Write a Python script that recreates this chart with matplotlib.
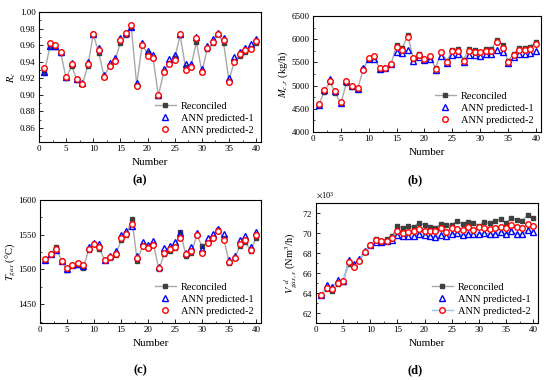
import matplotlib
matplotlib.use("Agg")
import matplotlib.pyplot as plt
import numpy as np
from matplotlib.ticker import ScalarFormatter, AutoMinorLocator

plt.rcParams['font.family'] = ['Liberation Serif', 'DejaVu Serif']
plt.rcParams['mathtext.fontset'] = 'stix'

number = list(range(1, 41))

# (a) R_c
a_rec = [0.927,0.958,0.958,0.951,0.920,0.935,0.918,0.913,0.935,0.973,
         0.951,0.922,0.935,0.941,0.963,0.972,0.982,0.912,0.960,0.950,
         0.945,0.899,0.928,0.938,0.944,0.972,0.933,0.934,0.964,0.928,
         0.955,0.962,0.973,0.963,0.917,0.941,0.947,0.952,0.956,0.962]
a_ann1 = [0.927,0.959,0.959,0.952,0.922,0.938,0.919,0.914,0.940,0.974,
          0.956,0.924,0.938,0.944,0.968,0.975,0.982,0.914,0.963,0.953,
          0.948,0.900,0.931,0.943,0.948,0.974,0.937,0.937,0.970,0.931,
          0.959,0.967,0.975,0.968,0.920,0.946,0.952,0.957,0.961,0.967]
a_ann2 = [0.932,0.962,0.960,0.952,0.921,0.937,0.919,0.913,0.937,0.974,
          0.954,0.922,0.935,0.941,0.966,0.975,0.984,0.911,0.960,0.947,
          0.944,0.900,0.927,0.937,0.942,0.974,0.930,0.933,0.968,0.927,
          0.957,0.964,0.974,0.966,0.916,0.940,0.949,0.954,0.955,0.965]

# (b) M_c,r (kg/h)
b_rec = [4580,4860,5080,4850,4620,5060,4980,4920,5350,5580,
         5610,5360,5380,5460,5870,5810,6080,5580,5680,5570,
         5610,5380,5730,5530,5760,5790,5560,5780,5770,5730,
         5780,5780,5980,5880,5530,5690,5810,5810,5840,5950]
b_ann1 = [4580,4900,5140,4880,4620,5090,4990,4920,5370,5580,
          5580,5360,5380,5470,5720,5700,5760,5530,5610,5560,
          5570,5330,5640,5490,5660,5690,5500,5660,5670,5630,
          5680,5680,5760,5720,5480,5610,5680,5690,5700,5740]
b_ann2 = [4610,4910,5100,4890,4650,5100,5000,4950,5340,5590,
          5630,5370,5390,5460,5830,5770,6040,5590,5650,5570,
          5630,5360,5720,5500,5740,5740,5530,5740,5730,5720,
          5740,5740,5930,5810,5510,5660,5770,5770,5790,5890]

# (c) T_gas (°C)
c_rec = [1513,1523,1532,1512,1499,1506,1507,1502,1528,1536,
         1530,1513,1517,1521,1542,1550,1573,1512,1535,1531,
         1537,1500,1522,1526,1531,1554,1520,1524,1549,1534,
         1538,1545,1557,1545,1510,1516,1534,1540,1527,1546]
c_ann1 = [1513,1523,1528,1512,1501,1507,1508,1505,1532,1538,
          1537,1514,1520,1526,1549,1555,1563,1520,1540,1535,
          1541,1503,1531,1534,1539,1552,1524,1532,1553,1530,
          1545,1551,1558,1551,1514,1519,1543,1548,1533,1554]
c_ann2 = [1515,1523,1530,1512,1502,1507,1510,1506,1530,1536,
          1533,1514,1518,1523,1545,1551,1566,1516,1534,1531,
          1535,1502,1524,1529,1532,1545,1522,1526,1549,1524,
          1538,1545,1556,1543,1511,1517,1536,1542,1528,1550]

# (d) V_gas,s^d (Nm3/h)
d_rec = [63800,64400,64200,64900,65100,66900,66700,67200,68100,68800,
         69400,69200,69400,69700,70700,70500,70700,70600,71000,70800,
         70600,70500,70900,70800,70800,71200,70900,71100,71000,70700,
         71100,71000,71200,71400,71000,71500,71300,71200,71800,71500]
d_ann1 = [63800,64800,64600,65300,65200,67300,66900,67400,68200,68800,
          69100,69100,69200,69300,69800,69700,69700,69700,69900,69800,
          69700,69600,69800,69700,69900,70000,69800,69900,69900,69900,
          70000,69900,69900,70100,69900,70200,69900,69900,70300,70100]
d_ann2 = [63800,64500,64400,65000,65200,67100,66600,67200,68100,68800,
          69300,69200,69200,69500,70200,70000,70100,70200,70400,70200,
          70200,70200,70500,70100,70500,70400,70300,70600,70300,70600,
          70500,70400,70500,70600,70500,70800,70600,70500,70900,70700]

W, H = 550, 380
fig = plt.figure(figsize=(W/100, H/100), dpi=100)

def rect(x0, x1, y0, y1):
    return [x0/W, (H-y1)/H, (x1-x0)/W, (y1-y0)/H]

panels = [
    (rect(39, 261, 12, 142), a_rec, a_ann1, a_ann2, (0.843, 1.0),
     np.arange(0.86, 1.001, 0.02), r'$R_c$', '(a)', False),
    (rect(313, 541, 16, 132), b_rec, b_ann1, b_ann2, (4000, 6500),
     np.arange(4000, 6501, 500), r'$M_{c,r}$ (kg/h)', '(b)', False),
    (rect(40, 261, 200, 323), c_rec, c_ann1, c_ann2, (1423, 1600),
     np.arange(1450, 1601, 50), r'$T_{gas}$ (°C)', '(c)', False),
    (rect(316, 538, 203, 323), d_rec, d_ann1, d_ann2, (61000, 73000),
     np.arange(62000, 72001, 2000), r'$V_{gas,s}^{\ \ d}$ (Nm$^3$/h)', '(d)', True),
]

for pos, rec, ann1, ann2, ylim, yticks, ylab, tag, bluel in panels:
    ax = fig.add_axes(pos)
    ax.plot(number, rec, color='#a8a8a8', lw=1.0, marker='s', ms=3.5,
            mfc='#404040', mec='#404040', label='Reconciled', zorder=2)
    if bluel:
        ax.plot(number, ann1, color='#9ec3e6', lw=0.8, zorder=1)
    ax.plot(number, ann1, ls='none', marker='^', ms=4.3, mfc='none',
            mec='#0000ff', mew=1.0, label='ANN predicted-1', zorder=3)
    if bluel:
        ax.plot(number, ann2, color='#9ec3e6', lw=1.0, marker='o', ms=4,
                mfc='white', mec='#ff0000', mew=1.0,
                label='ANN predicted-2', zorder=4)
    else:
        ax.plot(number, ann2, ls='none', marker='o', ms=4, mfc='white',
                mec='#ff0000', mew=1.0, label='ANN predicted-2', zorder=4)
    ax.set_xlim(0, 40.9)
    ax.set_ylim(*ylim)
    ax.set_xticks(range(0, 41, 5))
    ax.set_yticks(yticks)
    ax.xaxis.set_minor_locator(AutoMinorLocator(2))
    ax.yaxis.set_minor_locator(AutoMinorLocator(2))
    ax.tick_params(direction='in', labelsize=6.5, length=3, width=0.6,
                   top=False, right=False, pad=2.5)
    ax.tick_params(which='minor', direction='in', length=1.5, width=0.5)
    for s in ax.spines.values():
        s.set_linewidth(0.8)
    if tag == '(d)':
        fmt = ScalarFormatter(useMathText=True)
        fmt.set_powerlimits((3, 3))
        ax.yaxis.set_major_formatter(fmt)
        ax.yaxis.get_offset_text().set_fontsize(6)
    ax.set_xlabel('Number', fontsize=8, labelpad=3)
    ax.set_ylabel(ylab, fontsize=7.5, labelpad=1)
    ax.legend(loc='lower right', frameon=False, fontsize=7.5,
              handlelength=2.0, handletextpad=0.5, labelspacing=0.25,
              borderaxespad=0.3)

fig.text(140/W, 1-180/H, '(a)', ha='center', va='center', fontsize=9, fontweight='bold')
fig.text(415/W, 1-180/H, '(b)', ha='center', va='center', fontsize=9, fontweight='bold')
fig.text(140/W, 1-370/H, '(c)', ha='center', va='center', fontsize=9, fontweight='bold')
fig.text(415/W, 1-370/H, '(d)', ha='center', va='center', fontsize=9, fontweight='bold')

fig.savefig('out.png', dpi=100)
